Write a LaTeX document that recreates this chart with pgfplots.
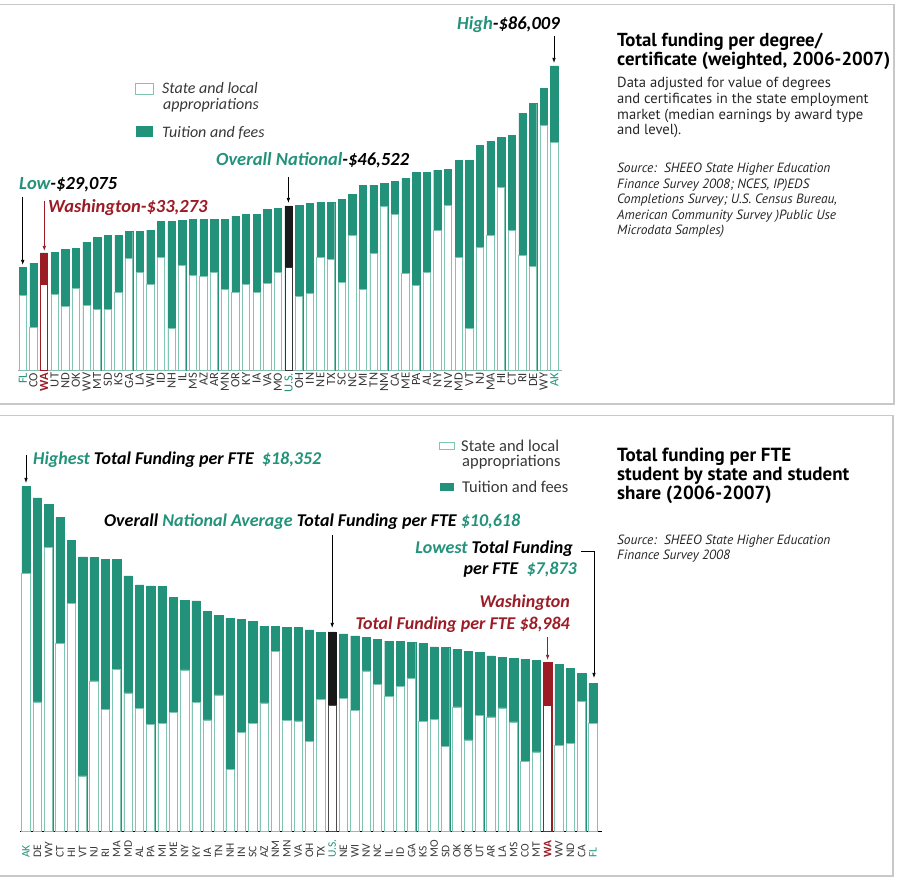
\documentclass[border=0pt]{standalone}
\usepackage{fontspec}
\setmainfont{Carlito}
\newfontfamily\myr{PT Sans}
\usepackage{pgfplots}
\pgfplotsset{compat=1.18}
\usepackage{pgfplotstable}
\usetikzlibrary{arrows.meta}
\definecolor{tl}{RGB}{35,146,122}
\definecolor{ltl}{RGB}{128,196,178}
\definecolor{wred}{RGB}{156,28,38}
\definecolor{gry}{RGB}{200,200,200}
\definecolor{lab}{RGB}{55,55,55}
\newcommand\anf{\fontsize{18.5}{20}\selectfont\bfseries\itshape}
\newcommand\bnf{\fontsize{18}{20}\selectfont\bfseries\itshape}

\pgfplotstableread{
x total app
0 29075 21168
1 30388 12136
2 33273 24461
3 33492 21638
4 34151 18252
5 34433 23332
6 36315 18440
7 37632 17217
8 38196 17217
9 38196 22203
10 39420 31705
11 39420 27848
12 39702 24367
13 42054 31893
14 42054 11948
15 42336 29635
16 42618 26813
17 42712 26625
18 42712 27660
19 42806 23050
20 43653 22015
21 44124 24461
22 44218 22203
23 45629 24555
24 45817 27754
25 46522 29259
26 46664 20886
27 47322 21921
28 47510 31893
29 47604 31329
30 48451 24837
31 49768 38102
32 52403 22861
33 52403 33022
34 52779 46287
35 53343 44029
36 54284 27471
37 55884 24179
38 56072 27848
39 56636 39514
40 56730 46664
41 59270 32081
42 59270 11854
43 63692 34904
44 64821 38291
45 65950 51650
46 66515 39702
47 72724 32458
48 75546 29353
49 79780 69149
50 86009 64445
}\topdata

\pgfplotstableread{
x total app
0 18352 13757
1 17749 6892
2 17394 15106
3 16720 10014
4 15478 12143
5 14609 2954
6 14573 8010
7 14502 6484
8 14485 8613
9 13598 7371
10 13119 6555
11 13066 5721
12 13030 5739
13 12462 6324
14 12303 8595
15 12267 6874
16 11700 5934
17 11487 7265
18 11362 3291
19 11292 5278
20 11185 5757
21 10919 6839
22 10901 9606
23 10883 5899
24 10866 5881
25 10724 4816
26 10617 7016
27 10618 6697
28 10511 7087
29 10405 6431
30 10351 8542
31 10227 7832
32 10138 7176
33 10138 7708
34 10085 8152
35 9997 5863
36 9819 5987
37 9801 4515
38 9695 6626
39 9588 4870
40 9518 6182
41 9340 6094
42 9251 6573
43 9216 5828
44 9180 3734
45 9127 4231
46 8984 6697
47 8914 4568
48 8701 4692
49 8400 6927
50 7873 5774
}\botdata

\begin{document}
\begin{tikzpicture}
\path[use as bounding box] (0pt,0pt) rectangle (902pt,878pt);
\draw[gry, line width=1.5pt] (0pt,873.5pt) -- (894pt,873.5pt) -- (894pt,474pt) -- (0pt,474pt);
\draw[gry, line width=1.5pt] (0pt,462.3pt) -- (893pt,462.3pt) -- (893pt,2pt) -- (0pt,2pt);

% ---------------- top chart ----------------
\begin{axis}[at={(18pt,507.3pt)}, anchor=south west, scale only axis,
  width=544.3pt, height=318.9pt, xmin=-0.45, xmax=50.75, ymin=0, ymax=90000,
  ybar, bar width=7.3pt,
  axis x line*=bottom, axis y line=none, ytick=\empty,
  x axis line style={draw=black!35, line width=0.8pt, -},
  xtick={0,...,50}, major tick length=0pt,
  xticklabels={\textcolor{tl}{FL},CO,\textcolor{wred}{\textbf{WA}},UT,ND,OK,WV,MT,SD,KS,GA,LA,WI,ID,NH,IL,MS,AZ,AR,MN,OR,KY,IA,VA,MO,\textcolor{tl}{U.S.},OH,IN,NE,TX,SC,NC,MI,TN,NM,CA,ME,PA,AL,NY,NV,MD,VT,NJ,MA,HI,CT,RI,DE,WY,\textcolor{tl}{AK}},
  xticklabel style={yshift=-1.5pt, rotate=90, anchor=east, font=\fontsize{12.5}{13}\selectfont, text=lab, inner sep=0.5pt},
  clip=false]
\addplot[fill=tl, draw=tl, line width=0.4pt, bar shift=0pt] table[x=x,y=total]{\topdata};
\addplot[fill=white, draw=ltl, line width=0.8pt, bar shift=0pt] table[x=x,y=app]{\topdata};
\addplot[fill=wred, draw=wred, line width=0.4pt, bar shift=0pt, restrict x to domain=1.5:2.5] table[x=x,y=total]{\topdata};
\addplot[fill=white, draw=wred, line width=0.8pt, bar shift=0pt, restrict x to domain=1.5:2.5] table[x=x,y=app]{\topdata};
\addplot[fill=black!90, draw=black!90, line width=0.4pt, bar shift=0pt, restrict x to domain=24.5:25.5] table[x=x,y=total]{\topdata};
\addplot[fill=white, draw=black!80, line width=0.8pt, bar shift=0pt, restrict x to domain=24.5:25.5] table[x=x,y=app]{\topdata};
\end{axis}

% top annotations
\node[anchor=base west, inner sep=0pt, font=\anf] at (457pt,848pt) {\textcolor{tl}{High}-\$86,009};
\draw[-{Latex[length=5pt,width=3.5pt]}, line width=0.7pt] (554pt,842pt) -- (554pt,815pt);
\node[anchor=base west, inner sep=0pt, font=\anf] at (216pt,712pt) {\textcolor{tl}{Overall National}-\$46,522};
\draw[-{Latex[length=5pt,width=3.5pt]}, line width=0.7pt] (288.4pt,701pt) -- (288.4pt,675pt);
\node[anchor=base west, inner sep=0pt, font=\anf] at (19pt,688pt) {\textcolor{tl}{Low}-\$29,075};
\draw[-{Latex[length=5pt,width=3.5pt]}, line width=0.7pt] (22.7pt,681pt) -- (22.7pt,613pt);
\node[anchor=base west, inner sep=0pt, font=\anf, text=wred] at (48pt,665pt) {Washington-\$33,273};
\draw[wred, -{Latex[length=5pt,width=3.5pt]}, line width=0.7pt] (44.3pt,677pt) -- (44.3pt,627pt);

% top legend
\draw[ltl, line width=1pt, fill=white] (135.5pt,794pt) rectangle (153.5pt,783pt);
\fill[tl] (136pt,752pt) rectangle (153pt,741pt);
\node[anchor=base west, inner sep=0pt, font=\fontsize{16}{18}\selectfont\itshape, text=lab] at (162pt,784pt) {State and local};
\node[anchor=base west, inner sep=0pt, font=\fontsize{16}{18}\selectfont\itshape, text=lab] at (163pt,768.5pt) {appropriations};
\node[anchor=base west, inner sep=0pt, font=\fontsize{16}{18}\selectfont\itshape, text=lab] at (162pt,740.5pt) {Tuition and fees};

% top right text
\begin{scope}[every node/.style={anchor=base west, inner sep=0pt}]
\node[font=\myr\fontsize{18.8}{20}\selectfont\bfseries] at (617pt,831pt) {Total funding per degree/};
\node[font=\myr\fontsize{18.8}{20}\selectfont\bfseries] at (617pt,812.5pt) {certificate (weighted, 2006-2007)};
\node[font=\myr\fontsize{14.6}{16}\selectfont, text=black!85] at (617pt,790pt) {Data adjusted for value of degrees};
\node[font=\myr\fontsize{14.6}{16}\selectfont, text=black!85] at (617pt,774.5pt) {and certificates in the state employment};
\node[font=\myr\fontsize{14.6}{16}\selectfont, text=black!85] at (617pt,758.5pt) {market (median earnings by award type};
\node[font=\myr\fontsize{14.6}{16}\selectfont, text=black!85] at (617pt,743pt) {and level).};
\node[font=\myr\fontsize{13.4}{14}\selectfont\itshape, text=black!85] at (617pt,705pt) {Source:\ \ SHEEO State Higher Education};
\node[font=\myr\fontsize{13.4}{14}\selectfont\itshape, text=black!85] at (617pt,689.5pt) {Finance Survey 2008; NCES, IP)EDS};
\node[font=\myr\fontsize{13.4}{14}\selectfont\itshape, text=black!85] at (617pt,674pt) {Completions Survey; U.S. Census Bureau,};
\node[font=\myr\fontsize{13.4}{14}\selectfont\itshape, text=black!85] at (617pt,658.5pt) {American Community Survey )Public Use};
\node[font=\myr\fontsize{13.4}{14}\selectfont\itshape, text=black!85] at (617pt,643pt) {Microdata Samples)};

% bottom right text
\node[font=\myr\fontsize{19}{20}\selectfont\bfseries] at (617pt,416pt) {Total funding per FTE};
\node[font=\myr\fontsize{19}{20}\selectfont\bfseries] at (617pt,397pt) {student by state and student};
\node[font=\myr\fontsize{19}{20}\selectfont\bfseries] at (617pt,378pt) {share (2006-2007)};
\node[font=\myr\fontsize{13.4}{14}\selectfont\itshape, text=black!85] at (617pt,333pt) {Source:\ \ SHEEO State Higher Education};
\node[font=\myr\fontsize{13.4}{14}\selectfont\itshape, text=black!85] at (617pt,318pt) {Finance Survey 2008};
\end{scope}

% ---------------- bottom chart ----------------
\begin{axis}[at={(20pt,46.5pt)}, anchor=south west, scale only axis,
  width=581.5pt, height=375.8pt, xmin=-0.53, xmax=50.75, ymin=0, ymax=20000,
  ybar, bar width=8.3pt,
  axis x line*=bottom, axis y line=none, ytick=\empty,
  x axis line style={draw=black, line width=1.4pt, -},
  xtick={0,...,50}, major tick length=0pt,
  xticklabels={\textcolor{tl}{AK},DE,WY,CT,HI,VT,NJ,RI,MA,MD,AL,PA,MI,ME,NY,KY,IA,TN,NH,IN,SC,AZ,NM,MN,VA,OH,TX,\textcolor{tl}{U.S.},NE,WI,NV,NC,IL,ID,GA,KS,MO,SD,OK,OR,UT,AR,LA,MS,CO,MT,\textcolor{wred}{\textbf{WA}},WV,ND,CA,\textcolor{tl}{FL}},
  xticklabel style={yshift=-27pt, rotate=90, anchor=west, font=\fontsize{11.5}{12}\selectfont, text=lab, inner sep=0.5pt},
  clip=false]
\addplot[fill=tl, draw=tl, line width=0.4pt, bar shift=0pt] table[x=x,y=total]{\botdata};
\addplot[fill=white, draw=ltl, line width=0.8pt, bar shift=0pt] table[x=x,y=app]{\botdata};
\addplot[fill=wred, draw=wred, line width=0.4pt, bar shift=0pt, restrict x to domain=45.5:46.5] table[x=x,y=total]{\botdata};
\addplot[fill=white, draw=wred, line width=0.8pt, bar shift=0pt, restrict x to domain=45.5:46.5] table[x=x,y=app]{\botdata};
\addplot[fill=black!90, draw=black!90, line width=0.4pt, bar shift=0pt, restrict x to domain=26.5:27.5] table[x=x,y=total]{\botdata};
\addplot[fill=white, draw=black!70, line width=0.8pt, bar shift=0pt, restrict x to domain=26.5:27.5] table[x=x,y=app]{\botdata};
\end{axis}

% bottom legend
\draw[ltl, line width=1pt, fill=white] (439.5pt,435pt) rectangle (454pt,428pt);
\fill[tl] (439.5pt,395pt) rectangle (454pt,387pt);
\node[anchor=base west, inner sep=0pt, font=\fontsize{16.5}{18}\selectfont, text=lab] at (461pt,426.5pt) {State and local};
\node[anchor=base west, inner sep=0pt, font=\fontsize{16.5}{18}\selectfont, text=lab] at (462pt,411pt) {appropriations};
\node[anchor=base west, inner sep=0pt, font=\fontsize{16.5}{18}\selectfont, text=lab] at (462pt,385.5pt) {Tuition and fees};

% bottom annotations
\node[anchor=base west, inner sep=0pt, font=\bnf] at (33pt,413pt) {\textcolor{tl}{Highest} Total Funding per FTE\ \ \textcolor{tl}{\$18,352}};
\draw[-{Latex[length=5pt,width=3.5pt]}, line width=0.7pt] (26pt,423pt) -- (26pt,395pt);
\node[anchor=base west, inner sep=0pt, font=\bnf] at (104pt,351pt) {Overall \textcolor{tl}{National Average} Total Funding per FTE \textcolor{tl}{\$10,618}};
\draw[-{Latex[length=5pt,width=3.5pt]}, line width=0.7pt] (332.2pt,343pt) -- (332.2pt,250pt);
\node[anchor=base east, inner sep=0pt, font=\bnf] at (573pt,324pt) {\textcolor{tl}{Lowest} Total Funding};
\node[anchor=base east, inner sep=0pt, font=\bnf] at (577pt,303pt) {per FTE\ \ \textcolor{tl}{\$7,873}};
\draw[-{Latex[length=5pt,width=3.5pt]}, line width=0.7pt] (581pt,327pt) -- (594pt,327pt) -- (594pt,200pt);
\node[anchor=base east, inner sep=0pt, font=\bnf, text=wred] at (570pt,270pt) {Washington};
\node[anchor=base east, inner sep=0pt, font=\bnf, text=wred] at (570pt,248pt) {Total Funding per FTE \$8,984};
\draw[wred, -{Latex[length=5pt,width=3.5pt]}, line width=0.7pt] (547.6pt,241pt) -- (547.6pt,218pt);
\end{tikzpicture}
\end{document}
